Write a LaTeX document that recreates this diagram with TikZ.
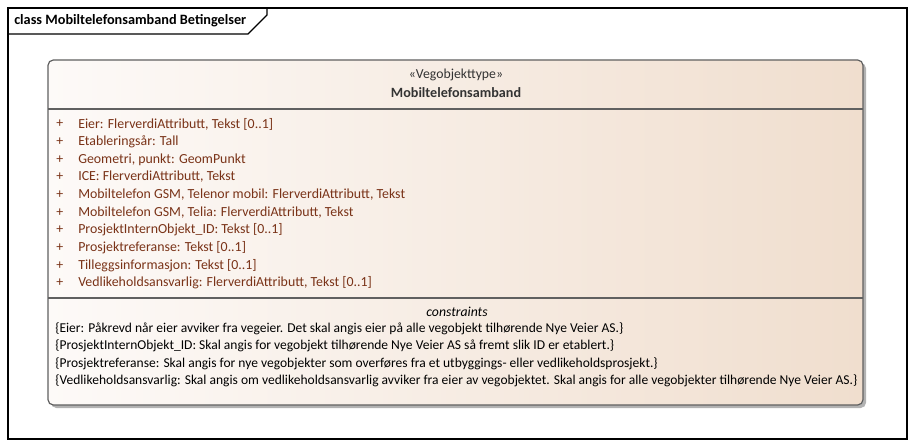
\documentclass[tikz,border=0pt]{standalone}
\usepackage{fontspec}
\setmainfont{Carlito}
\begin{document}
\begin{tikzpicture}[x=0.75pt,y=-0.75pt,
  attr/.style={anchor=west,inner sep=0pt,font=\fontsize{10.4}{12}\selectfont,text=attrcol},
  plus/.style={anchor=west,inner sep=0pt,font=\fontsize{10.4}{12}\selectfont,text=attrcol},
  cons/.style={anchor=west,inner sep=0pt,font=\fontsize{10.15}{12}\selectfont,text=black},
  frameline/.style={draw=black,line width=0.9pt},
  sepline/.style={draw=sepcol,line width=0.9pt}]
\definecolor{attrcol}{HTML}{7A3318}
\definecolor{sepcol}{HTML}{606060}
\definecolor{gradL}{HTML}{FDFAF8}
\definecolor{gradR}{HTML}{F0DECE}
\useasboundingbox (0,0) rectangle (916,448);
\fill[white] (0,0) rectangle (916,448);
% outer frame
\draw[frameline] (8,8) rectangle (907,439);
\draw[frameline] (8,34) -- (248,34) -- (267,15) -- (267,8);
\node[anchor=west,inner sep=0pt,font=\fontsize{10.7}{12}\selectfont\bfseries] (title) at (14,21) {class Mobiltelefonsamband Betingelser};
% shadow
\fill[black!30,rounded corners=4] (51,63) rectangle (866,408);
% class box
\shade[shading=axis,left color=gradL,right color=gradR,rounded corners=4] (48,60) rectangle (863,405);
\draw[draw=sepcol,line width=0.9pt,rounded corners=4] (48,60) rectangle (863,405);
\draw[sepline] (48,109) -- (863,109);
\draw[sepline] (48,298) -- (863,298);
\node[inner sep=0pt,font=\fontsize{10.3}{12}\selectfont,text=black!80] (stereo) at (456,74.5) {«Vegobjekttype»};
\node[inner sep=0pt,font=\fontsize{10.6}{12}\selectfont\bfseries,text=black!80] (name) at (456,92.5) {Mobiltelefonsamband};
% attributes
\foreach \t [count=\i from 0] in {
  {Eier: FlerverdiAttributt, Tekst [0..1]},
  {Etableringsår: Tall},
  {Geometri, punkt: GeomPunkt},
  {ICE: FlerverdiAttributt, Tekst},
  {Mobiltelefon GSM, Telenor mobil: FlerverdiAttributt, Tekst},
  {Mobiltelefon GSM, Telia: FlerverdiAttributt, Tekst},
  {ProsjektInternObjekt\_ID: Tekst [0..1]},
  {Prosjektreferanse: Tekst [0..1]},
  {Tilleggsinformasjon: Tekst [0..1]},
  {Vedlikeholdsansvarlig: FlerverdiAttributt, Tekst [0..1]}}{
  \node[plus] (p\i) at (56,124+\i*17.67) {+};
  \node[attr] (a\i) at (78,124+\i*17.67) {\t};
}
% constraints
\node[inner sep=0pt,font=\fontsize{10.3}{12}\selectfont\itshape,text=black] (ch) at (457,311.5) {constraints};
\node[cons] (c0) at (55,328.5) {\{Eier: Påkrevd når eier avviker fra vegeier. Det skal angis eier på alle vegobjekt tilhørende Nye Veier AS.\}};
\node[cons] (c1) at (55,346) {\{ProsjektInternObjekt\_ID: Skal angis for vegobjekt tilhørende Nye Veier AS så fremt slik ID er etablert.\}};
\node[cons] (c2) at (55,363.5) {\{Prosjektreferanse: Skal angis for nye vegobjekter som overføres fra et utbyggings- eller vedlikeholdsprosjekt.\}};
\node[cons] (c3) at (55,381) {\{Vedlikeholdsansvarlig: Skal angis om vedlikeholdsansvarlig avviker fra eier av vegobjektet. Skal angis for alle vegobjekter tilhørende Nye Veier AS.\}};
\end{tikzpicture}
\end{document}
